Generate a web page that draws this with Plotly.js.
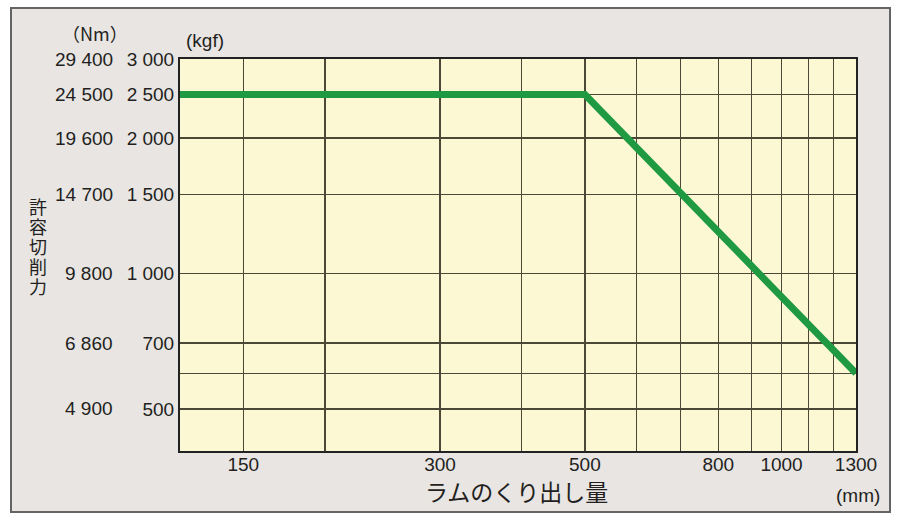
<!DOCTYPE html>
<html>
<head>
<meta charset="utf-8">
<script src="https://cdn.plot.ly/plotly-3.0.1.min.js"></script>
<style>
  body { margin: 0; background: #ffffff; }
  #frame { position: absolute; left: 10px; top: 7px; width: 881px; height: 506px;
           box-sizing: border-box; background: #e8e5e3; border: 2px solid #646464; }
  #graph { position: absolute; left: 0; top: 0; width: 900px; height: 523px; }
</style>
</head>
<body>
<div id="frame"></div>
<div id="graph"></div>
<script>
//ram extension (mm) and allowable cutting force (kgf)
const ramMm = [120, 500, 1300]
const forceKgf = [2500, 2500, 600]

//axis ticks
const xTickVals = [150, 200, 300, 400, 500, 600, 700, 800, 900, 1000, 1100, 1200, 1300]
const xTickText = ['150', '', '300', '', '500', '', '', '800', '', '1000', '', '', '1300']
const yTickVals = [500, 600, 700, 1000, 1500, 2000, 2500, 3000]
const yTickText = ['500', '', '700', '1 000', '1 500', '2 000', '2 500', '3 000']

//second column of labels in Nm, placed at the kgf levels
const nmLevels = [500, 700, 1000, 1500, 2000, 2500, 3000]
const nmText = ['4 900', '6 860', '9 800', '14 700', '19 600', '24 500', '29 400']

//vertical y title, one character per line
const yTitleChars = ['許', '容', '切', '削', '力']

const font = 'Liberation Sans, Arial, sans-serif'
const jpFont = 'Noto Sans CJK JP, sans-serif'
const ink = '#231f20'
const gridColor = '#4b4838'

//line trace
const trace = {
  x: ramMm,
  y: forceKgf,
  type: 'scatter',
  mode: 'lines',
  line: {color: '#1f9a42', width: 7},
  hoverinfo: 'skip'
}

//Nm labels as annotations on the kgf axis
const annotations = nmLevels.map((v, i) => ({
  xref: 'paper', yref: 'y',
  x: 0, y: Math.log10(v),
  xanchor: 'right', yanchor: 'middle',
  xshift: -65,
  text: nmText[i],
  showarrow: false,
  font: {family: font, size: 19, color: ink}
}))

//y title characters stacked top to bottom
yTitleChars.forEach((c, i) => {
  annotations.push({
    xref: 'paper', yref: 'paper', x: 0, y: 0.5,
    xshift: -142, yshift: 49 - i * 20,
    xanchor: 'center', yanchor: 'middle', text: c, showarrow: false,
    font: {family: jpFont, size: 18, color: ink}
  })
})

//unit labels and x title
annotations.push(
  {xref: 'paper', yref: 'paper', x: 0, y: 1, xshift: -85, yshift: 26,
   xanchor: 'center', yanchor: 'middle', text: '（Nm）', showarrow: false,
   font: {family: jpFont, size: 18, color: ink}},
  {xref: 'paper', yref: 'paper', x: 0, y: 1, xshift: 25, yshift: 19,
   xanchor: 'center', yanchor: 'middle', text: '(kgf)', showarrow: false,
   font: {family: font, size: 19, color: ink}},
  {xref: 'paper', yref: 'paper', x: 1, y: 0, xshift: 2, yshift: -44,
   xanchor: 'center', yanchor: 'middle', text: '(mm)', showarrow: false,
   font: {family: font, size: 19, color: ink}},
  {xref: 'paper', yref: 'paper', x: 0.5, y: 0, xshift: -2, yshift: -40,
   xanchor: 'center', yanchor: 'middle', text: 'ラムのくり出し量', showarrow: false,
   font: {family: jpFont, size: 23, color: ink}}
)

const layout = {
  width: 900,
  height: 523,
  margin: {l: 180, r: 44, t: 59, b: 72, pad: 0},
  paper_bgcolor: 'rgba(0,0,0,0)',
  plot_bgcolor: '#fdf8d4',
  showlegend: false,
  xaxis: {
    type: 'log',
    range: [Math.log10(120), Math.log10(1300)],
    tickmode: 'array',
    tickvals: xTickVals,
    ticktext: xTickText,
    ticks: '',
    ticklabelstandoff: -5,
    showgrid: true,
    gridcolor: gridColor,
    gridwidth: 1.5,
    showline: true,
    mirror: true,
    linecolor: '#222',
    linewidth: 2,
    zeroline: false,
    tickfont: {family: font, size: 19, color: ink}
  },
  yaxis: {
    type: 'log',
    range: [Math.log10(403), Math.log10(3000)],
    tickmode: 'array',
    tickvals: yTickVals,
    ticktext: yTickText,
    ticks: '',
    showgrid: true,
    gridcolor: gridColor,
    gridwidth: 1.5,
    showline: true,
    mirror: true,
    linecolor: '#222',
    linewidth: 2,
    zeroline: false,
    tickfont: {family: font, size: 19, color: ink}
  },
  annotations: annotations
}

const config = {displayModeBar: false, staticPlot: true}

Plotly.newPlot(document.getElementById('graph'), [trace], layout, config)
</script>
</body>
</html>
